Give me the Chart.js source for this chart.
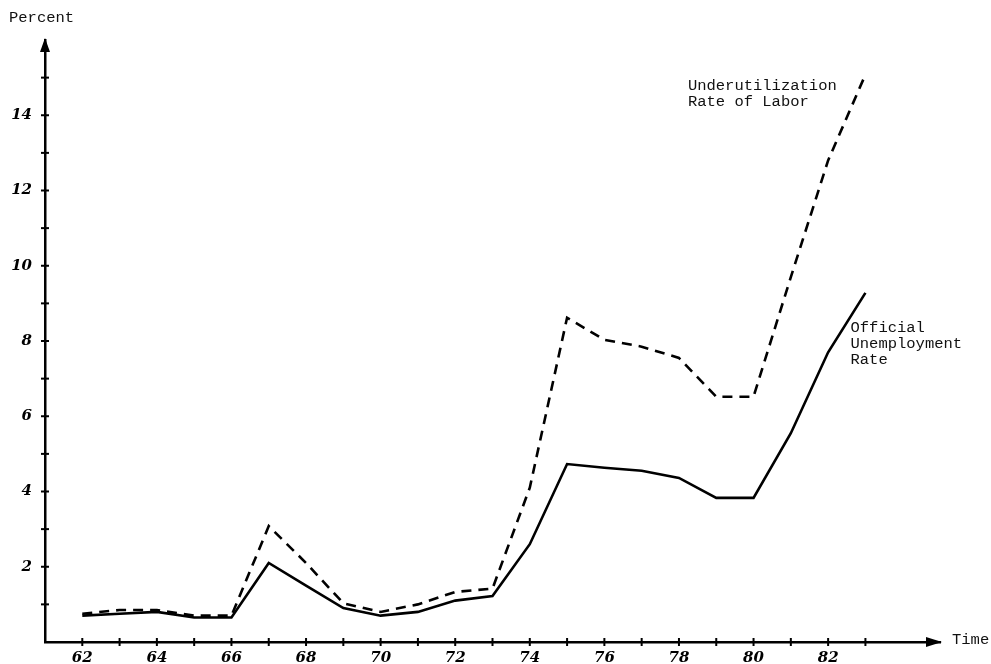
<!DOCTYPE html>
<html>
<head>
<meta charset="utf-8">
<script src="https://cdn.jsdelivr.net/npm/chart.js@4"></script>
<style>
  html, body { margin: 0; padding: 0; background: #fff; overflow: hidden; }
  #c { display: block; }
</style>
</head>
<body>
<canvas id="c" width="991" height="664" style="width:991px;height:664px"></canvas>
<script>
const years = [62,63,64,65,66,67,68,69,70,71,72,73,74,75,76,77,78,79,80,81,82,83];
const officialRate = [0.7,0.75,0.8,0.65,0.65,2.1,1.5,0.9,0.7,0.8,1.1,1.22,2.6,4.73,4.63,4.55,4.36,3.83,3.83,5.55,7.7,9.28];
const underutilRate = [0.75,0.85,0.85,0.7,0.7,3.08,2.1,1.03,0.8,1.0,1.33,1.42,4.1,8.62,8.03,7.85,7.55,6.52,6.52,9.7,12.8,15.08];
const xTickLabels = [62,64,66,68,70,72,74,76,78,80,82];
const yTickLabels = [2,4,6,8,10,12,14];
const xMin = 61, xMax = 85, yMin = 0, yMax = 16;

const monoFont = '"Liberation Mono", "DejaVu Sans Mono", monospace';
const handFont = '"DejaVu Serif", serif';

const decor = {
  id: 'decor',
  afterDraw(chart) {
    const ctx = chart.ctx;
    const xs = chart.scales.x, ys = chart.scales.y;
    const x0 = xs.left, y0 = ys.bottom;
    ctx.save();
    ctx.strokeStyle = '#000';
    ctx.fillStyle = '#000';
    ctx.lineWidth = 2;
    for (let v = 1; v <= 15; v++) {
      const py = ys.getPixelForValue(v);
      ctx.beginPath(); ctx.moveTo(x0 - 4, py); ctx.lineTo(x0 + 4, py); ctx.stroke();
    }
    for (let v = 62; v <= 83; v++) {
      const px = xs.getPixelForValue(v);
      ctx.beginPath(); ctx.moveTo(px, y0 - 4); ctx.lineTo(px, y0 + 4); ctx.stroke();
    }
    const top = ys.top, right = xs.right;
    ctx.beginPath();
    ctx.moveTo(x0, top - 2); ctx.lineTo(x0 - 5, top + 12); ctx.lineTo(x0 + 5, top + 12); ctx.closePath(); ctx.fill();
    ctx.beginPath();
    ctx.moveTo(right + 2, y0); ctx.lineTo(right - 14, y0 - 5); ctx.lineTo(right - 14, y0 + 5); ctx.closePath(); ctx.fill();
    ctx.fillStyle = '#111';
    ctx.font = '15.5px ' + monoFont;
    ctx.textBaseline = 'middle';
    ctx.textAlign = 'left';
    ctx.fillText('Percent', 9, 18);
    ctx.fillText('Time', right + 12, y0 - 2);
    const ux = xs.getPixelForValue(78.24);
    ctx.fillText('Underutilization', ux, ys.getPixelForValue(14.78));
    ctx.fillText('Rate of Labor', ux, ys.getPixelForValue(14.35));
    const ox = xs.getPixelForValue(82.6);
    ctx.fillText('Official', ox, ys.getPixelForValue(8.35));
    ctx.fillText('Unemployment', ox, ys.getPixelForValue(7.92));
    ctx.fillText('Rate', ox, ys.getPixelForValue(7.49));
    ctx.restore();
  }
};

new Chart(document.getElementById('c'), {
  type: 'line',
  data: {
    datasets: [
      {
        label: 'Official Unemployment Rate',
        data: years.map((y, i) => ({x: y, y: officialRate[i]})),
        borderColor: '#000', borderWidth: 2.6, pointRadius: 0, tension: 0, fill: false
      },
      {
        label: 'Underutilization Rate of Labor',
        data: years.map((y, i) => ({x: y, y: underutilRate[i]})),
        borderColor: '#000', borderWidth: 2.6, borderDash: [10, 7], pointRadius: 0, tension: 0, fill: false
      }
    ]
  },
  options: {
    responsive: false,
    animation: false,
    devicePixelRatio: 1,
    layout: { padding: { top: 40, right: 51, bottom: 0, left: 0 } },
    plugins: { legend: { display: false }, tooltip: { enabled: false } },
    scales: {
      x: {
        type: 'linear', min: xMin, max: xMax,
        afterFit(s) { s.height = 22; },
        afterBuildTicks(s) { s.ticks = xTickLabels.map(v => ({value: v})); },
        ticks: {
          autoSkip: false, maxRotation: 0, padding: 7,
          color: '#000',
          font: { family: handFont, size: 15, style: 'italic', weight: 'bold' },
          callback: v => String(v)
        },
        grid: { display: false, drawTicks: false },
        border: { display: true, color: '#000', width: 2.5 }
      },
      y: {
        type: 'linear', min: yMin, max: yMax,
        afterFit(s) { s.width = 45; },
        afterBuildTicks(s) { s.ticks = yTickLabels.map(v => ({value: v})); },
        ticks: {
          autoSkip: false, padding: 13,
          color: '#000',
          font: { family: handFont, size: 15, style: 'italic', weight: 'bold' },
          callback: v => String(v)
        },
        grid: { display: false, drawTicks: false },
        border: { display: true, color: '#000', width: 2.5 }
      }
    }
  },
  plugins: [decor]
});
</script>
</body>
</html>
